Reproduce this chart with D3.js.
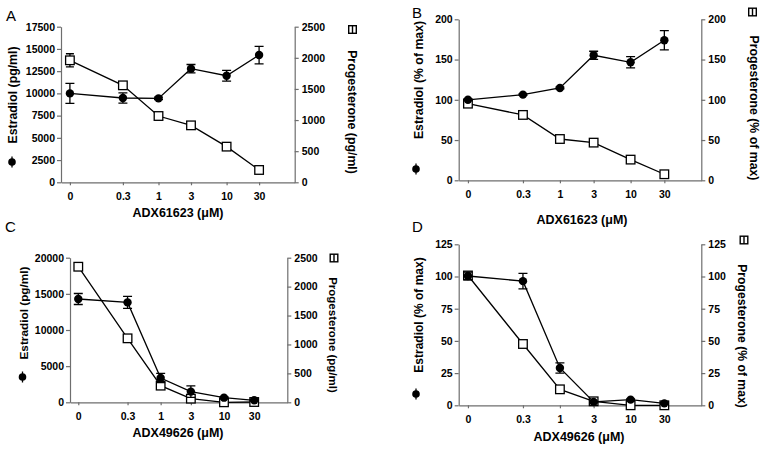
<!DOCTYPE html>
<html>
<head>
<meta charset="utf-8">
<script src="https://cdn.jsdelivr.net/npm/d3@7"></script>
<style>
  body { margin: 0; background: #fff; }
  text { font-family: "Liberation Sans", Arial, sans-serif; fill: #000; }
</style>
</head>
<body>
<svg id="canvas" width="764" height="450"></svg>
<script>
// doses (uM); the 0 dose sits at 0.05 on the log axis
let doses = [0, 0.3, 1, 3, 10, 30];
let doseLabels = ['0', '0.3', '1', '3', '10', '30'];

// panel A - ADX61623, absolute
let estA = [10000, 9480, 9440, 12780, 11990, 14310];
let estAErr = [1120, 570, 150, 470, 600, 980];
let progA = [1960, 1558, 1065, 915, 573, 198];
let progAErr = [105, 20, 10, 10, 10, 10];

// panel B - ADX61623, % of max
let estB = [100, 106.4, 114.7, 155.3, 146.6, 173.9];
let estBErr = [1, 1, 1, 5, 7, 12];
let progB = [95.2, 81.2, 51.3, 46.8, 25.7, 7.5];
let progBErr = [1, 1, 1, 1, 1, 1];

// panel C - ADX49626, absolute
let estC = [14290, 13820, 3360, 1480, 640, 280];
let estCErr = [760, 830, 650, 790, 150, 100];
let progC = [2344, 1106, 288, 63, 0, 5];
let progCErr = [10, 42, 10, 5, 0, 5];

// panel D - ADX49626, % of max
let estD = [100.4, 96.4, 29, 2.6, 4.4, 1.5];
let estDErr = [3, 6, 4, 0.5, 0.5, 0.5];
let progD = [100.8, 47.6, 12.4, 3.1, 0, 0];
let progDErr = [2.5, 0.5, 0.5, 0.5, 0, 1];

let leftTicksA = [0, 2500, 5000, 7500, 10000, 12500, 15000, 17500];
let rightTicksA = [0, 500, 1000, 1500, 2000, 2500];
let ticksB = [0, 50, 100, 150, 200];
let leftTicksC = [0, 5000, 10000, 15000, 20000];
let rightTicksC = [0, 500, 1000, 1500, 2000, 2500];
let ticksD = [0, 25, 50, 75, 100, 125];

let panels = [
  {
    letter: 'A', lx: 6, ly: 21,
    x0: 61, x1: 294.7, y0: 26.7, y1: 182.3,
    est: estA, estErr: estAErr, prog: progA, progErr: progAErr,
    leftTicks: leftTicksA, rightTicks: rightTicksA,
    leftTitle: 'Estradiol (pg/ml)', rightTitle: 'Progesterone (pg/ml)', xTitle: 'ADX61623 (\u03bcM)',
    lt: [16.5, 95, 12.3], rt: [348, 112, 12.3], xt: [178, 217, 12.5],
    circ: [12, 162], sq: [352.5, 29.5], tickBase: 200
  },
  {
    letter: 'B', lx: 412, ly: 18,
    x0: 458.7, x1: 701.3, y0: 19.3, y1: 180.3,
    est: estB, estErr: estBErr, prog: progB, progErr: progBErr,
    leftTicks: ticksB, rightTicks: ticksB,
    leftTitle: 'Estradiol (% of max)', rightTitle: 'Progesterone (% of max)', xTitle: 'ADX61623 (\u03bcM)',
    lt: [423, 80, 12.3], rt: [749.5, 108, 12.3], xt: [582, 224, 12.5],
    circ: [416, 169], sq: [752.5, 12], tickBase: 198
  },
  {
    letter: 'C', lx: 5, ly: 232,
    x0: 70, x1: 287.3, y0: 257.7, y1: 402.3,
    est: estC, estErr: estCErr, prog: progC, progErr: progCErr,
    leftTicks: leftTicksC, rightTicks: rightTicksC,
    leftTitle: 'Estradiol (pg/ml)', rightTitle: 'Progesterone (pg/ml)', xTitle: 'ADX49626 (\u03bcM)',
    lt: [27.5, 313, 11.8], rt: [329, 335, 11.5], xt: [178, 437, 12.5],
    circ: [22.5, 377], sq: [334, 258], tickBase: 420
  },
  {
    letter: 'D', lx: 412, ly: 232,
    x0: 458.7, x1: 701.3, y0: 244.3, y1: 405.3,
    est: estD, estErr: estDErr, prog: progD, progErr: progDErr,
    leftTicks: ticksD, rightTicks: ticksD,
    leftTitle: 'Estradiol (% of max)', rightTitle: 'Progesterone (% of max)', xTitle: 'ADX49626 (\u03bcM)',
    lt: [423, 315, 12], rt: [737.5, 336, 12.2], xt: [579, 441, 12.5],
    circ: [416, 394], sq: [744, 240], tickBase: 423
  }
];

let svg = d3.select('#canvas');
let axisColor = '#6e6e6e';
let plain = d3.format('d');

let drawPanel = (p) => {
  let g = svg.append('g');

  let x = d3.scaleLog().domain([0.037, 100]).range([p.x0, p.x1]);
  let xPos = (d) => x(d === 0 ? 0.05 : d);
  let yL = d3.scaleLinear()
    .domain([0, d3.max(p.leftTicks)])
    .range([p.y1, p.y0]);
  let yR = d3.scaleLinear()
    .domain([0, d3.max(p.rightTicks)])
    .range([p.y1, p.y0]);

  // axes
  let leftAxis = g.append('g').attr('transform', 'translate(' + p.x0 + ',0)')
    .call(d3.axisLeft(yL).tickValues(p.leftTicks).tickFormat(plain)
      .tickSize(4).tickPadding(2).tickSizeOuter(0));
  let rightAxis = g.append('g').attr('transform', 'translate(' + p.x1 + ',0)')
    .call(d3.axisRight(yR).tickValues(p.rightTicks).tickFormat(plain)
      .tickSize(4).tickPadding(3).tickSizeOuter(0));
  let bottomAxis = g.append('g').attr('transform', 'translate(0,' + p.y1 + ')')
    .call(d3.axisBottom(x).tickValues(doses.map((d) => (d === 0 ? 0.05 : d)))
      .tickFormat((d, i) => doseLabels[i]).tickSize(3).tickPadding(7).tickSizeOuter(0));

  [leftAxis, rightAxis, bottomAxis].forEach((a) => {
    a.select('.domain').attr('stroke', axisColor).attr('stroke-width', 1.2);
    a.selectAll('.tick line').attr('stroke', axisColor).attr('stroke-width', 1.2);
    a.selectAll('text')
      .attr('font-family', '"Liberation Sans", Arial, sans-serif')
      .attr('font-weight', 'bold')
      .attr('font-size', '10.5px')
      .attr('fill', '#000');
  });
  bottomAxis.selectAll('text').attr('dy', null).attr('y', p.tickBase - p.y1);

  // progesterone series (open squares)
  let line = d3.line();
  g.append('path')
    .attr('d', line(doses.map((d, i) => [xPos(d), yR(p.prog[i])])))
    .attr('fill', 'none').attr('stroke', '#000').attr('stroke-width', 1.3);
  doses.forEach((d, i) => {
    let cx = xPos(d);
    let top = yR(p.prog[i] + p.progErr[i]);
    let bot = yR(Math.max(0, p.prog[i] - p.progErr[i]));
    g.append('path')
      .attr('d', 'M' + (cx - 4) + ',' + top + 'H' + (cx + 4) + 'M' + cx + ',' + top + 'V' + bot + 'M' + (cx - 4) + ',' + bot + 'H' + (cx + 4))
      .attr('stroke', '#000').attr('stroke-width', 1.3).attr('fill', 'none');
  });
  g.selectAll('rect.prog')
    .data(doses)
    .enter()
    .append('rect')
    .attr('class', 'prog')
    .attr('x', (d) => xPos(d) - 4.3)
    .attr('y', (d, i) => yR(p.prog[i]) - 4.3)
    .attr('width', 8.6).attr('height', 8.6)
    .attr('fill', '#fff').attr('stroke', '#000').attr('stroke-width', 1.3);

  // estradiol series (filled circles)
  g.append('path')
    .attr('d', line(doses.map((d, i) => [xPos(d), yL(p.est[i])])))
    .attr('fill', 'none').attr('stroke', '#000').attr('stroke-width', 1.3);
  doses.forEach((d, i) => {
    let cx = xPos(d);
    let top = yL(p.est[i] + p.estErr[i]);
    let bot = yL(Math.max(0, p.est[i] - p.estErr[i]));
    g.append('path')
      .attr('d', 'M' + (cx - 4.5) + ',' + top + 'H' + (cx + 4.5) + 'M' + cx + ',' + top + 'V' + bot + 'M' + (cx - 4.5) + ',' + bot + 'H' + (cx + 4.5))
      .attr('stroke', '#000').attr('stroke-width', 1.3).attr('fill', 'none');
  });
  g.selectAll('circle.est')
    .data(doses)
    .enter()
    .append('circle')
    .attr('class', 'est')
    .attr('cx', (d) => xPos(d))
    .attr('cy', (d, i) => yL(p.est[i]))
    .attr('r', 4.2)
    .attr('fill', '#000');

  // panel letter
  g.append('text').attr('x', p.lx).attr('y', p.ly)
    .attr('font-size', '15px').text(p.letter);

  // axis titles
  g.append('text')
    .attr('transform', 'translate(' + p.lt[0] + ',' + p.lt[1] + ') rotate(-90)')
    .attr('text-anchor', 'middle').attr('font-weight', 'bold')
    .attr('font-size', p.lt[2] + 'px').text(p.leftTitle);
  g.append('text')
    .attr('transform', 'translate(' + p.rt[0] + ',' + p.rt[1] + ') rotate(90)')
    .attr('text-anchor', 'middle').attr('font-weight', 'bold')
    .attr('font-size', p.rt[2] + 'px').text(p.rightTitle);
  g.append('text')
    .attr('x', p.xt[0]).attr('y', p.xt[1])
    .attr('text-anchor', 'middle').attr('font-weight', 'bold')
    .attr('font-size', p.xt[2] + 'px').text(p.xTitle);

  // legend symbols next to the titles
  g.append('line')
    .attr('x1', p.circ[0]).attr('x2', p.circ[0])
    .attr('y1', p.circ[1] - 5.5).attr('y2', p.circ[1] + 5.5)
    .attr('stroke', '#000').attr('stroke-width', 1.3);
  g.append('circle').attr('cx', p.circ[0]).attr('cy', p.circ[1]).attr('r', 3.8).attr('fill', '#000');
  g.append('rect')
    .attr('x', p.sq[0] - 3.8).attr('y', p.sq[1] - 3.8)
    .attr('width', 7.6).attr('height', 7.6)
    .attr('fill', '#fff').attr('stroke', '#000').attr('stroke-width', 1.4);
  g.append('line')
    .attr('x1', p.sq[0]).attr('x2', p.sq[0])
    .attr('y1', p.sq[1] - 3.8).attr('y2', p.sq[1] + 3.8)
    .attr('stroke', '#000').attr('stroke-width', 1.4);
};

panels.forEach(drawPanel);
</script>
</body>
</html>
